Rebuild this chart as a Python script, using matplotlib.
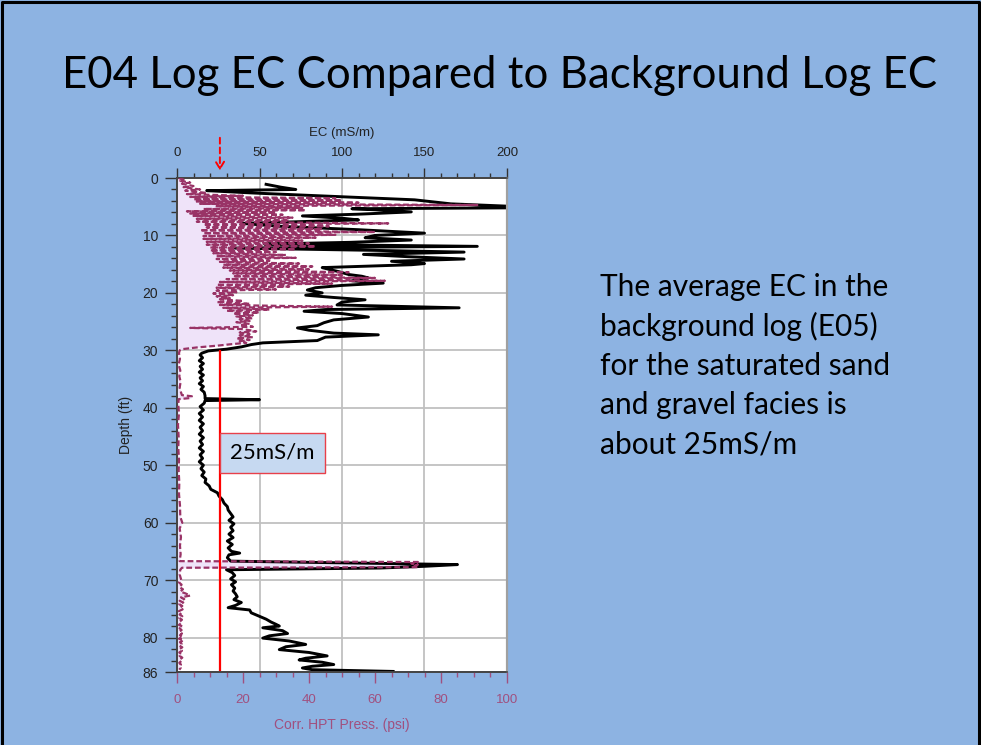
import matplotlib
matplotlib.use('Agg')
import matplotlib.pyplot as plt
from matplotlib.lines import Line2D
from matplotlib.ticker import MultipleLocator, FixedLocator

# ---------------- data ----------------
ec_depth = [1.1, 1.6, 2.0, 2.2, 2.6, 3.2, 3.8, 4.3, 4.5, 4.9, 5.2, 5.35, 5.6, 5.9, 6.3, 6.6,
            7.0, 7.3, 7.9, 8.4, 9.0, 9.6, 10.0, 10.4, 10.8, 11.2, 11.5, 11.9, 12.2, 12.6,
            12.9, 13.3, 13.7, 14.1, 14.5, 14.9, 15.1, 15.6, 15.9, 16.3, 16.8, 17.1, 17.4,
            17.9, 18.3, 18.7, 19.1, 19.5, 20.0, 20.4, 20.8, 21.2, 21.6, 22.1, 22.6, 22.9,
            23.2, 23.6, 24.2, 24.7, 25.2, 25.7, 26.1, 26.5, 27.0, 27.3, 27.7, 28.3, 28.7,
            29.0, 29.4, 29.8, 30.1, 30.5, 30.8, 31.3, 31.8, 32.3, 32.8, 33.3, 33.8, 34.3,
            34.8, 35.3, 35.8, 36.3, 36.8, 37.3, 37.9, 38.4, 38.6, 38.75, 39.2, 39.8, 40.4,
            41.0, 41.6, 42.2, 42.8, 43.4, 44.0, 44.6, 45.2, 45.8, 46.4, 47.0, 47.6, 48.2,
            48.8, 49.4, 50.0, 50.6, 51.2, 51.8, 52.4, 53.0, 53.6, 54.2, 54.8, 55.4, 56.0,
            56.6, 57.2, 57.8, 58.4, 59.0, 59.6, 60.2, 60.8, 61.4, 62.0, 62.6, 63.2, 63.8,
            64.4, 65.0, 65.3, 65.6, 66.1, 66.7, 67.3, 67.6, 67.9, 68.2, 68.7, 69.2, 69.8,
            70.3, 70.8, 71.4, 71.9, 72.4, 72.9, 73.4, 73.9, 74.4, 74.8, 75.2, 75.7, 76.3,
            76.8, 77.3, 77.7, 78.0, 78.3, 78.8, 79.3, 79.7, 80.1, 80.6, 81.2, 81.6, 82.1,
            82.6, 83.2, 83.6, 83.9, 84.3, 84.7, 85.0, 85.3, 85.6, 85.9]
ec_value = [54, 63, 72, 18, 45, 94, 144, 160, 166, 200, 200, 106, 125, 142, 110, 76,
            100, 110, 39, 62, 110, 150, 120, 114, 142, 105, 53, 182, 35, 120,
            174, 113, 140, 174, 130, 150, 142, 88, 92, 98, 104, 112, 116,
            106, 125, 100, 84, 79, 88, 78, 95, 114, 100, 97, 171, 90,
            77, 100, 116, 95, 89, 85, 73, 80, 95, 122, 90, 85, 52,
            45, 39, 30, 19, 15, 14, 15.5, 13.5, 16, 14, 15.5, 13.5, 16,
            14, 15.5, 13.5, 16, 14.5, 16.5, 17, 17, 50, 17, 16.5, 14, 16,
            13.5, 15.5, 13.5, 16, 14, 15.5, 13.5, 16, 14, 15.5, 13.5, 16, 14,
            15.5, 13.5, 16, 14.5, 16.5, 15, 17.5, 17, 19.5, 20.5, 24.5, 25.5, 27.5,
            28.5, 30.5, 31, 32.5, 34, 31.5, 34.5, 32.5, 34, 31.5, 34, 30.5, 33.5,
            31, 33, 38, 31.5, 30.5, 32.5, 170, 150, 123, 30, 33.5, 35, 32.5,
            35.5, 33, 35, 34, 35.5, 36.5, 34.5, 39, 35.5, 31, 44, 45, 50,
            54, 57, 60, 62, 52, 64, 67, 56, 52, 68, 78, 66, 62,
            80, 91, 78, 74, 88, 95, 82, 76, 82, 131]

hpt_depth = [0.0, 0.3, 0.5, 0.8, 1.0, 1.4, 1.6, 2.0, 2.2, 2.6, 2.8,
             3.1, 3.3, 3.5, 3.7, 3.9, 4.1, 4.3, 4.5, 4.7, 4.9, 5.2, 5.4, 5.6, 5.8,
             6.0, 6.2, 6.4, 6.6, 6.9, 7.1, 7.4, 7.6, 7.9, 8.1, 8.4, 8.6, 8.9, 9.1,
             9.4, 9.6, 9.9, 10.1, 10.4, 10.6, 10.9, 11.1, 11.4, 11.6, 11.9, 12.1,
             12.4, 12.6, 12.9, 13.1, 13.4, 13.6, 13.9, 14.1, 14.4, 14.6, 14.9, 15.1,
             15.4, 15.6, 15.9, 16.1, 16.4, 16.6, 16.9, 17.1, 17.4, 17.6, 17.9, 18.1,
             18.4, 18.6, 18.9, 19.1, 19.4, 19.6, 19.9, 20.1, 20.4, 20.6, 20.9, 21.1,
             21.4, 21.6, 21.9, 22.1, 22.4, 22.6, 22.9, 23.1, 23.4, 23.6, 23.9, 24.1,
             24.4, 24.6, 24.9, 25.1, 25.4, 25.6, 25.9, 26.1, 26.3,
             26.7, 26.9, 27.2, 27.4, 27.7, 27.9, 28.2, 28.4, 28.7, 28.9,
             29.2, 29.5, 29.8, 30.0,
             30.5, 31.5, 32.5, 33.5, 34.5, 35.5, 36.5, 37.3, 37.8, 38.0, 38.3, 38.5,
             39.5, 41.0, 43.0, 45.0, 47.0, 49.0, 51.0, 53.0, 55.0, 57.0, 59.0, 60.0,
             61.0, 62.5, 64.0, 65.5, 66.7, 66.85, 67.1, 67.3, 67.5, 67.75, 67.85, 68.2,
             69.0, 70.0, 70.4, 70.8, 71.2, 71.6, 72.0, 72.3, 72.7, 73.0, 73.3, 73.6,
             73.9, 74.2, 74.5, 74.8, 75.1, 75.4, 75.7, 76.0, 76.3, 76.6, 76.9, 77.2,
             77.5, 77.8, 78.1, 78.4, 78.7, 79.0, 79.3, 79.6, 79.9, 80.2, 80.5, 80.8,
             81.1, 81.4, 81.7, 82.0, 82.3, 82.6, 82.9, 83.2, 83.5, 83.8, 84.1, 84.4,
             84.7, 85.0, 85.3, 85.6]
hpt_psi = [0.5, 2, 1, 4, 1.5, 5, 2, 7, 2.5, 9, 3,
           20, 4, 48, 5, 50, 6, 55, 7, 91, 12, 38, 8, 39, 3,
           30, 4, 32, 5, 35, 6, 34, 6, 64, 8, 46, 9, 44, 7,
           60, 8, 48, 8, 42, 8, 38, 9, 40, 9, 42, 10,
           36, 10, 30, 11, 33, 12, 36, 12, 28, 13, 37, 14,
           41, 14, 40, 16, 52, 17, 50, 17, 60, 15, 63, 13,
           47, 12, 34, 12, 30, 12, 18, 11, 17, 12, 16, 13,
           20, 12, 22, 13, 47, 14, 28, 15, 25, 17, 23, 18,
           23, 19, 22, 18, 22, 19, 23, 4, 20,
           24, 19, 22, 19, 23, 18, 22, 19, 21, 17,
           12, 6, 1.5, 0.8,
           0.6, 0.9, 0.5, 1.0, 0.7, 1.1, 0.8, 1.2, 1.5, 4.5, 4.2, 0.5,
           0.4, 0.6, 0.3, 0.5, 0.4, 0.6, 0.5, 0.7, 0.6, 0.9, 1.0, 1.6,
           0.8, 1.2, 0.9, 1.1, 0.8, 73, 71, 73, 72, 73, 1.5, 1.0,
           0.8, 1.3, 0.6, 1.4, 0.7, 1.8, 1.0, 2.5, 4.0, 1.2, 2.2, 0.8,
           1.9, 0.7, 1.6, 0.9, 1.7, 0.6, 1.4, 0.8, 1.6, 0.7, 1.5, 0.9,
           1.3, 0.6, 1.7, 0.8, 1.4, 0.7, 1.5, 0.9, 1.8, 0.6, 2.0, 0.9,
           1.4, 0.7, 1.6, 0.8, 1.5, 0.7, 1.4, 0.8, 1.6, 0.9, 1.3, 0.7,
           1.2, 0.8, 1.1, 0.7]

ec_ticks = [0, 50, 100, 150, 200]
psi_ticks = [0, 20, 40, 60, 80, 100]
depth_ticks = [0, 10, 20, 30, 40, 50, 60, 70, 80, 86]
background_ec = 26
bg_line_depth = [30.1, 85.6]

title = "E04 Log EC Compared to Background Log EC"
note_lines = ["The average EC in the", "background log (E05)",
              "for the saturated sand", "and gravel facies is", "about 25mS/m"]
box_label = "25mS/m"

# ---------------- style ----------------
BG = '#8DB3E2'
PURPLE = '#993366'
PURPLE_TXT = '#A0507F'
LAVENDER = '#EFE3F9'
W, H = 981, 745

plt.rcParams['font.family'] = ['Liberation Sans', 'DejaVu Sans']

fig = plt.figure(figsize=(W / 100, H / 100), dpi=100)
fig.patch.set_facecolor(BG)

# slide border (left, top, right)
fig.add_artist(Line2D([1.5 / W, 1.5 / W, 1 - 2.5 / W, 1 - 2.5 / W],
                      [0, 1 - 1.5 / H, 1 - 1.5 / H, 0],
                      transform=fig.transFigure, color='black', lw=2.2))

left, right, top, bottom = 177, 507, 178, 672
ax_ec = fig.add_axes([left / W, 1 - bottom / H, (right - left) / W, (bottom - top) / H])
ax_p = ax_ec.twiny()

ax_ec.set_facecolor('white')
ax_ec.set_xlim(0, 200)
ax_ec.set_ylim(86, 0)
ax_p.set_xlim(0, 100)
ax_p.set_ylim(86, 0)

# grid
ax_ec.set_axisbelow(True)
ax_ec.xaxis.set_major_locator(FixedLocator(ec_ticks))
ax_ec.xaxis.set_minor_locator(MultipleLocator(10))
ax_ec.yaxis.set_major_locator(FixedLocator(depth_ticks))
ax_ec.yaxis.set_minor_locator(MultipleLocator(2))
ax_ec.grid(True, which='major', color='#C0C0C0', lw=1.3)

# pressure fill (under the EC line)
ax_ec.fill_betweenx(hpt_depth, 0, hpt_psi, transform=ax_p.transData,
                    color=LAVENDER, lw=0, zorder=1)
# EC line
ax_ec.plot(ec_value, ec_depth, color='black', lw=2.1, zorder=2)

# pressure dashed line on top
ax_p.plot(hpt_psi, hpt_depth, color=PURPLE, lw=1.6, ls=(0, (2.6, 1.3)), zorder=3)

# background EC marker line
ax_p.plot([background_ec, background_ec], bg_line_depth, color='#FF0000', lw=1.6,
          transform=ax_ec.transData, zorder=4)
ax_p.text(background_ec + 6.4, 47.8, box_label, transform=ax_ec.transData,
          fontsize=16, family=['Lato', 'DejaVu Sans'], color='black', ha='left', va='center',
          zorder=5,
          bbox=dict(boxstyle='square,pad=0.45', fc='#C6D9F1', ec='#E8404A', lw=1.0))

# red dashed arrow above top axis
ax_ec.annotate('', xy=(background_ec, -1.3), xytext=(background_ec, -7.0),
               xycoords='data', textcoords='data', annotation_clip=False,
               arrowprops=dict(arrowstyle='->,head_length=0.5,head_width=0.3',
                               color='#FF0000', lw=1.4, ls=(0, (3, 2)),
                               shrinkA=0, shrinkB=0))

# axes / ticks styling
ax_ec.xaxis.tick_top()
ax_ec.xaxis.set_label_position('top')
ax_ec.tick_params(axis='x', which='major', top=True, bottom=False, labeltop=True,
                  labelbottom=False, length=7, width=1, color='#333333', pad=6.5,
                  labelsize=9.5, labelcolor='#222222')
ax_ec.tick_params(axis='x', which='minor', top=True, bottom=False, length=3.5,
                  width=1, color='#333333')
ax_ec.tick_params(axis='y', which='major', length=8.5, width=1, color='#333333', pad=5,
                  labelsize=10, labelcolor='#222222')
ax_ec.tick_params(axis='y', which='minor', length=4, width=1, color='#333333')
ax_ec.set_xlabel('EC (mS/m)', fontsize=9.5, color='#222222', labelpad=8)
ax_ec.set_ylabel('Depth (ft)', fontsize=10, color='#222222', labelpad=7)

ax_p.xaxis.tick_bottom()
ax_p.xaxis.set_label_position('bottom')
ax_p.xaxis.set_major_locator(FixedLocator(psi_ticks))
ax_p.xaxis.set_minor_locator(MultipleLocator(5))
ax_p.tick_params(axis='x', which='major', top=False, bottom=True, labeltop=False,
                 labelbottom=True, length=8, width=1, color=PURPLE_TXT, pad=7.5,
                 labelsize=9.5, labelcolor=PURPLE_TXT)
ax_p.tick_params(axis='x', which='minor', top=False, bottom=True, length=3.5, width=1,
                 color=PURPLE_TXT)
ax_p.set_xlabel('Corr. HPT Press. (psi)', fontsize=10, color=PURPLE_TXT, labelpad=9)

for ax in (ax_ec, ax_p):
    for s in ('left', 'top', 'bottom'):
        ax.spines[s].set_color('#444444')
        ax.spines[s].set_linewidth(1.2)
    ax.spines['right'].set_color('#A0A0A0')
    ax.spines['right'].set_linewidth(1.5)

# title & note text
fig.text(0.509, 1 - 75 / H, title, fontsize=31.5, family=['Lato', 'DejaVu Sans'],
         color='black', ha='center', va='center')
for i, line in enumerate(note_lines):
    fig.text(600 / W, 1 - (287 + 39.3 * i) / H, line, fontsize=21.5,
             family=['Lato', 'DejaVu Sans'], color='black', ha='left', va='center')

fig.savefig('out.png', dpi=100, facecolor=BG)
